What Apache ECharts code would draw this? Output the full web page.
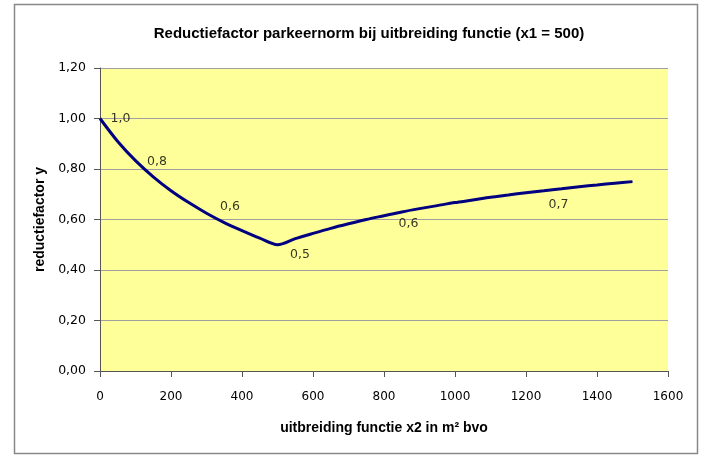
<!DOCTYPE html>
<html>
<head>
<meta charset="utf-8">
<script src="https://cdn.jsdelivr.net/npm/echarts@6/dist/echarts.min.js"></script>
<style>
html,body{margin:0;padding:0;background:#fff;}
#c{width:702px;height:458px;}
</style>
</head>
<body>
<div id="c"></div>
<script>
// x2 values (m² bvo)
var xValues = [0, 50, 100, 150, 200, 250, 300, 350, 400, 450, 500, 550, 600, 650, 700, 750,
  800, 850, 900, 950, 1000, 1050, 1100, 1150, 1200, 1250, 1300, 1350, 1400, 1450, 1500];
// reductiefactor y
var yValues = [1.000, 0.909, 0.833, 0.769, 0.714, 0.667, 0.625, 0.588, 0.556, 0.526, 0.500,
  0.524, 0.545, 0.565, 0.583, 0.600, 0.615, 0.630, 0.643, 0.655, 0.667, 0.677, 0.688,
  0.697, 0.706, 0.714, 0.722, 0.730, 0.737, 0.744, 0.750];
// points that carry a data label
var labelledX = [0, 100, 300, 500, 800, 1200];
var yTicks = ['0,00', '0,20', '0,40', '0,60', '0,80', '1,00', '1,20'];
var xTicks = ['0', '200', '400', '600', '800', '1000', '1200', '1400', '1600'];

// label offsets (styling)
var labelOffsets = [[10, 0], [11, 1], [13, -6], [12, 10], [14, 8], [22, 12]];

var lineData = xValues.map(function (x, i) { return [x, yValues[i]]; });
var labelData = labelledX.map(function (x, k) {
  var i = xValues.indexOf(x);
  return {
    value: [x, yValues[i]],
    label: { offset: labelOffsets[k] }
  };
});

var narrow = "'Liberation Sans Narrow', 'Arial Narrow', 'Liberation Sans', sans-serif";
var chart = echarts.init(document.getElementById('c'), null, { renderer: 'canvas' });
chart.setOption({
  backgroundColor: '#ffffff',
  animation: false,
  title: {
    text: 'Reductiefactor parkeernorm bij uitbreiding functie (x1 = 500)',
    left: 364, top: 21, textAlign: 'center',
    textStyle: { fontFamily: narrow, fontWeight: 'bold', fontSize: 15, color: '#000' }
  },
  graphic: [{
    type: 'rect', silent: true, z: -1,
    shape: { x: 14.5, y: 4.5, width: 683, height: 449 },
    style: { fill: 'none', stroke: '#888888', lineWidth: 1.5 }
  }],
  grid: {
    left: 100, right: 34, top: 68, bottom: 87,
    show: true, backgroundColor: '#FFFF99', borderWidth: 0
  },
  xAxis: {
    type: 'value', min: 0, max: 1600, interval: 200,
    name: 'uitbreiding functie x2 in m² bvo',
    nameLocation: 'middle', nameGap: 50,
    nameTextStyle: { fontFamily: narrow, fontWeight: 'bold', fontSize: 14, color: '#000' },
    axisLine: { show: true, onZero: false, lineStyle: { color: '#555', width: 1 } },
    axisTick: { show: true, inside: false, length: 6, lineStyle: { color: '#555' } },
    axisLabel: {
      margin: 20, fontFamily: 'DejaVu Sans', fontSize: 12, color: '#000',
      formatter: function (v) { return xTicks[Math.round(v / 200)]; }
    },
    splitLine: { show: false }
  },
  yAxis: {
    type: 'value', min: 0, max: 1.2, interval: 0.2,
    name: 'reductiefactor y',
    nameLocation: 'middle', nameGap: 42,
    nameTextStyle: { fontFamily: narrow, fontWeight: 'bold', fontSize: 14, color: '#000' },
    axisLine: { show: true, lineStyle: { color: '#555', width: 1 } },
    axisTick: { show: true, inside: false, length: 6, lineStyle: { color: '#555' } },
    axisLabel: {
      margin: 14, fontFamily: 'DejaVu Sans', fontSize: 12.5, color: '#000',
      formatter: function (v) { return yTicks[Math.round(v / 0.2)]; }
    },
    splitLine: { show: true, lineStyle: { color: '#a0a0a0', width: 1 } }
  },
  series: [{
    type: 'line',
    data: lineData,
    smooth: 0.3,
    showSymbol: false,
    lineStyle: { color: '#000080', width: 3 },
    z: 3
  }, {
    type: 'scatter',
    data: labelData,
    symbolSize: 1,
    itemStyle: { color: 'rgba(0,0,0,0)' },
    label: {
      show: true, position: 'right', distance: 0,
      fontFamily: 'DejaVu Sans', fontSize: 12.5, color: '#000',
      formatter: function (p) { return p.value[1].toFixed(1).replace('.', ','); }
    },
    z: 4
  }]
});
</script>
</body>
</html>
